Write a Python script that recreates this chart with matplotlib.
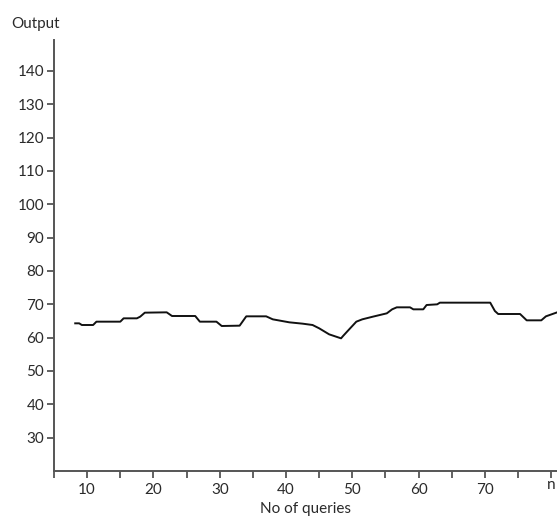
import matplotlib
matplotlib.use('Agg')
import matplotlib.pyplot as plt
from matplotlib.ticker import MultipleLocator

# traced output curve (x = no of queries, y = output)
queries = [8.2, 8.8, 9.2, 10.9, 11.4, 15.0, 15.5, 17.5, 18.0, 18.7, 22.0, 22.8,
           26.3, 27.0, 29.5, 30.3, 33.0, 34.0, 37.0, 38.0, 40.5, 42.5, 44.0,
           45.0, 46.5, 48.0, 48.3, 48.6, 49.2, 50.6, 51.5, 53.1, 55.2, 56.0,
           56.7, 58.7, 59.2, 60.7, 61.2, 62.8, 63.2, 70.8, 71.5, 72.0, 75.3,
           76.3, 78.5, 79.2, 80.9]
output = [64.3, 64.3, 63.8, 63.8, 64.8, 64.8, 65.8, 65.8, 66.3, 67.5, 67.6, 66.5,
          66.5, 64.8, 64.8, 63.5, 63.6, 66.4, 66.4, 65.5, 64.6, 64.2, 63.8,
          62.8, 61.0, 60.0, 59.8, 60.5, 61.8, 64.8, 65.5, 66.3, 67.3, 68.5,
          69.1, 69.1, 68.5, 68.5, 69.8, 70.0, 70.5, 70.5, 68.0, 67.1, 67.1,
          65.2, 65.2, 66.4, 67.6]

x_ticks = [10, 20, 30, 40, 50, 60, 70, 80]
x_labels = ['10', '20', '30', '40', '50', '60', '70', 'n']
y_ticks = [30, 40, 50, 60, 70, 80, 90, 100, 110, 120, 130, 140]

plt.rcParams['font.family'] = ['Lato', 'DejaVu Sans']
text_col = '#2a2a2a'
spine_col = '#555555'

fig = plt.figure(figsize=(5.57, 5.18), dpi=100)
ax = fig.add_axes([54 / 557, 47 / 518, 503 / 557, 431 / 518])

ax.plot(queries, output, color='#111111', lw=1.4)

ax.set_xlim(5, 80.87)
ax.set_ylim(20, 149.3)
ax.set_xticks(x_ticks)
ax.set_xticklabels(x_labels)
ax.xaxis.set_minor_locator(MultipleLocator(5))
ax.set_yticks(y_ticks)

for s in ['top', 'right']:
    ax.spines[s].set_visible(False)
for s in ['left', 'bottom']:
    ax.spines[s].set_color(spine_col)
    ax.spines[s].set_linewidth(1.4)

ax.tick_params(axis='both', which='both', direction='out', length=5, width=1.3,
               color=spine_col, labelcolor=text_col, labelsize=11)
ax.tick_params(axis='x', which='both', pad=4)
ax.tick_params(axis='y', pad=2)
# "n" sits a little higher than the numbers
ax.get_xticklabels()[-1].set_y(0.012)

ax.set_xlabel('No of queries', fontsize=11, color=text_col, labelpad=3)
fig.text(11 / 557, 1 - 24 / 518, 'Output', fontsize=11, color=text_col,
         ha='left', va='center')

fig.savefig('out.png', dpi=100)
